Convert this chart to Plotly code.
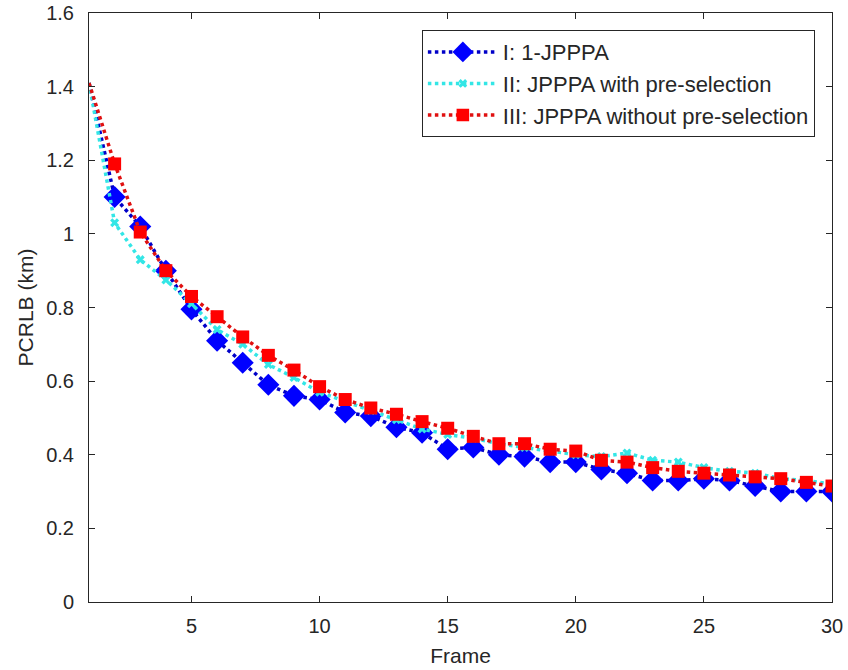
import plotly.graph_objects as go

frames = list(range(1, 31))
jpppa_1 = [1.41, 1.10, 1.02, 0.90, 0.795, 0.71, 0.65, 0.59, 0.56, 0.55,
           0.515, 0.505, 0.475, 0.46, 0.415, 0.42, 0.40, 0.395, 0.38, 0.38,
           0.36, 0.35, 0.33, 0.33, 0.335, 0.33, 0.315, 0.30, 0.30, 0.30]
jpppa_with = [1.41, 1.03, 0.93, 0.875, 0.81, 0.74, 0.70, 0.645, 0.61, 0.57,
              0.545, 0.52, 0.495, 0.47, 0.455, 0.445, 0.43, 0.42, 0.41, 0.40,
              0.395, 0.405, 0.385, 0.38, 0.365, 0.355, 0.35, 0.335, 0.33, 0.32]
jpppa_without = [1.41, 1.19, 1.005, 0.90, 0.83, 0.775, 0.72, 0.67, 0.63, 0.585,
                 0.55, 0.527, 0.51, 0.49, 0.472, 0.45, 0.43, 0.43, 0.415, 0.41,
                 0.385, 0.38, 0.365, 0.355, 0.35, 0.345, 0.34, 0.335, 0.325, 0.315]
names = ["I: 1-JPPPA", "II: JPPPA with pre-selection", "III: JPPPA without pre-selection"]

def sizes(s):
    return [0] + [s] * (len(frames) - 1)

FONT = "Liberation Sans, Arial"
fig = go.Figure()
fig.add_trace(go.Scatter(x=frames, y=jpppa_1, name=names[0], mode="lines+markers",
                         line=dict(color="#0000C8", width=3.5, dash="dot"),
                         marker=dict(symbol="diamond", size=sizes(17), color="#0000FF",
                                     opacity=1, line=dict(width=0))))
fig.add_trace(go.Scatter(x=frames, y=jpppa_with, name=names[1], mode="lines+markers",
                         line=dict(color="#33E6E6", width=3.5, dash="dot"),
                         marker=dict(symbol="x", size=sizes(8), color="#33E6E6",
                                     opacity=1, line=dict(width=0))))
fig.add_trace(go.Scatter(x=frames, y=jpppa_without, name=names[2], mode="lines+markers",
                         line=dict(color="#E01010", width=3.5, dash="dot"),
                         marker=dict(symbol="square", size=sizes(13), color="#FF0000",
                                     opacity=1, line=dict(width=0))))

axis_common = dict(showline=True, linecolor="#262626", linewidth=1, mirror="ticks",
                   ticks="inside", ticklen=6, tickcolor="#262626", showgrid=False,
                   zeroline=False, automargin=False,
                   tickfont=dict(family=FONT, size=20, color="#262626"))
fig.update_xaxes(range=[1, 30], tickvals=[5, 10, 15, 20, 25, 30],
                 ticklabelstandoff=6,
                 title=dict(text="Frame", font=dict(family=FONT, size=21, color="#262626"),
                            standoff=12),
                 **axis_common)
fig.update_yaxes(range=[0, 1.6], tickvals=[0, 0.2, 0.4, 0.6, 0.8, 1, 1.2, 1.4, 1.6],
                 ticktext=["0", "0.2", "0.4", "0.6", "0.8", "1", "1.2", "1.4", "1.6"],
                 ticklabelstandoff=10,
                 title=dict(text="PCRLB (km)", font=dict(family=FONT, size=21, color="#262626"),
                            standoff=6),
                 **axis_common)
fig.update_layout(
    width=848, height=670,
    margin=dict(l=89, r=16, t=13, b=68),
    plot_bgcolor="white", paper_bgcolor="white",
    legend=dict(x=0.448, y=0.971, xanchor="left", yanchor="top",
                bordercolor="#262626", borderwidth=1, bgcolor="white",
                font=dict(family=FONT, size=22, color="#262626"),
                tracegroupgap=0, itemwidth=70),
)
fig.write_html("out.html")
